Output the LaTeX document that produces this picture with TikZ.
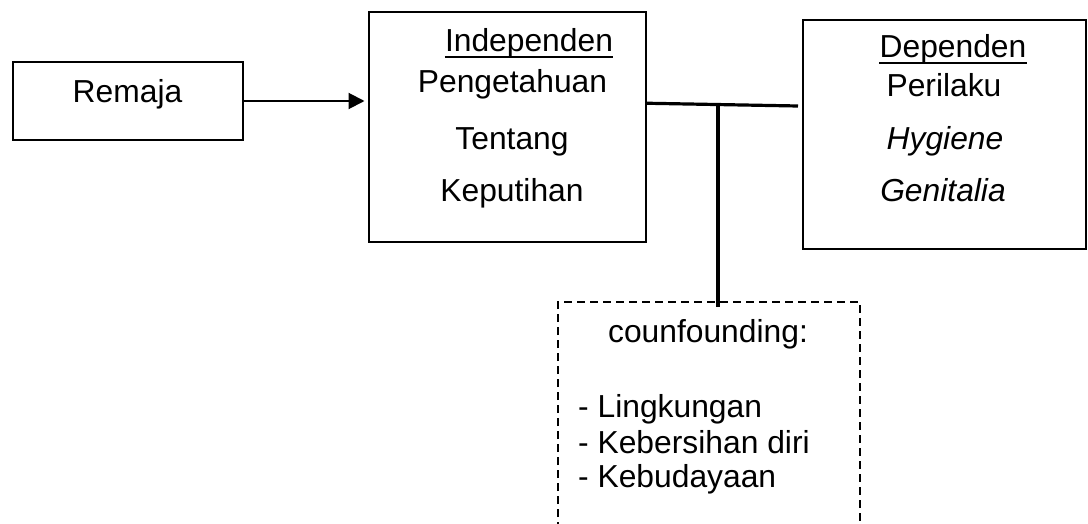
\documentclass[tikz,border=0pt]{standalone}
\usepackage{fontspec}
\setmainfont{Liberation Sans}
\usetikzlibrary{arrows.meta}
\begin{document}
\begin{tikzpicture}[x=1pt,y=-1pt,
  box/.style={draw, line width=2pt, inner sep=0pt},
  txt/.style={inner sep=0pt, font=\fontsize{31.8pt}{38pt}\selectfont},
  conn/.style={line width=3.2pt},
  arr/.style={line width=2pt, -{Triangle[length=16pt,width=16pt]}},
  dashedframe/.style={line width=2pt, dash pattern=on 8pt off 5pt},
  uline/.style={line width=2pt},
]
\useasboundingbox (0,0) rectangle (1088,524);
% boxes
\node[box, minimum width=230pt, minimum height=78pt] (remaja) at (128,101) {};
\node[box, minimum width=277.5pt, minimum height=229.5pt] (indep) at (507.25,127.25) {};
\node[box, minimum width=283pt, minimum height=229pt] (dep) at (944.5,134.5) {};
% texts
\node[txt, anchor=base] (tremaja) at (127.5,103) {Remaja};
\node[txt, anchor=base] (tind) at (529,52) {Independen};
\draw[uline] ([yshift=-5pt]tind.base west) -- ([yshift=-5pt]tind.base east);
\node[txt, anchor=base] (tpeng) at (512.5,93) {Pengetahuan};
\node[txt, anchor=base] (ttent) at (512,150) {Tentang};
\node[txt, anchor=base] (tkep) at (512,201) {Keputihan};
\node[txt, anchor=base] (tdep) at (953,58) {Dependen};
\draw[uline] ([yshift=-5pt]tdep.base west) -- ([yshift=-5pt]tdep.base east);
\node[txt, anchor=base] (tper) at (944,97) {Perilaku};
\node[txt, anchor=base] (thyg) at (945,150) {\itshape Hygiene};
\node[txt, anchor=base] (tgen) at (943,202) {\itshape Genitalia};
% confounding frame (open at bottom)
\coordinate (cfl) at (558,530);
\coordinate (cftl) at (558,302);
\coordinate (cftr) at (860,302);
\coordinate (cfr) at (860,530);
\draw[dashedframe] (cfl) -- (cftl) -- (cftr) -- (cfr);
\node[txt, anchor=base] (tconf) at (708,342) {counfounding:};
\node[txt, anchor=base west] (t1) at (578,417) {- Lingkungan};
\node[txt, anchor=base west] (t2) at (578,453) {- Kebersihan diri};
\node[txt, anchor=base west] (t3) at (578,487) {- Kebudayaan};
% connectors
\draw[arr, shorten >=3pt] (remaja.east) -- (remaja.east -| indep.west);
\coordinate (hstart) at ([yshift=24pt]indep.east);
\coordinate (hend) at ([xshift=-4pt,yshift=28.5pt]dep.west);
\draw[conn] (hstart) -- (hend);
\coordinate (junc) at (718,104.4);
\coordinate (vend) at (718,307);
\draw[conn] (junc) -- (vend);
\end{tikzpicture}
\end{document}
